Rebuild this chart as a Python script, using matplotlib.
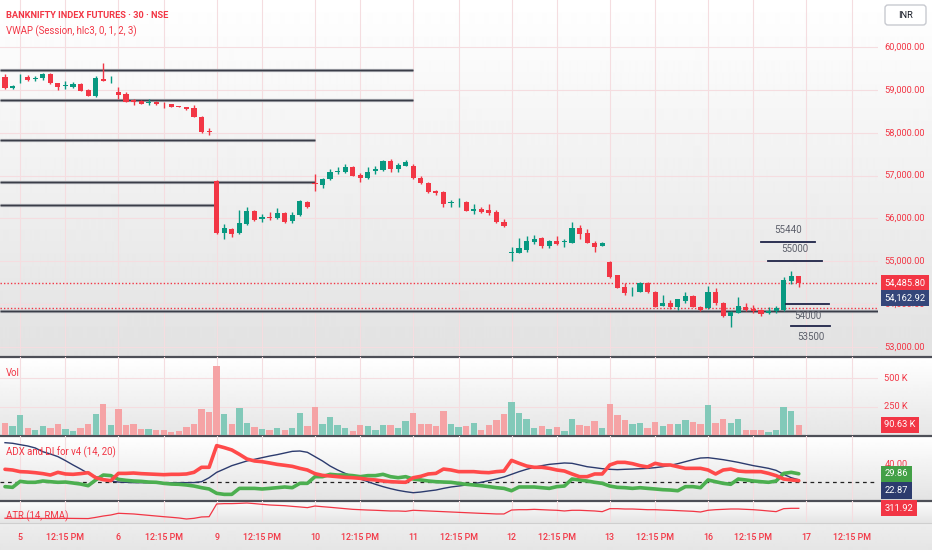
import numpy as np
import matplotlib
matplotlib.use('Agg')
import matplotlib.pyplot as plt
import matplotlib.transforms as mtransforms
from matplotlib import font_manager
from matplotlib.patches import FancyBboxPatch

_names = {f.name for f in font_manager.fontManager.ttflist}
FONT = 'Liberation Sans Narrow' if 'Liberation Sans Narrow' in _names else 'Roboto'
NARROW = FONT == 'Liberation Sans Narrow'
plt.rcParams['font.family'] = [FONT, 'DejaVu Sans']

# ---------------- data ----------------
opens = [59300, 59048, 59290, 59293, 59247, 59283, 59370, 59153, 59100, 59073, 59137, 58997, 58857, 59260, 59250,
         58957, 58897, 58770, 58740, 58700, 58713, 58695, 58663, 58612, 58593, 58570, 58374, 58035,
         56880, 55667, 55760, 55653, 55870, 56173, 55980, 56030, 56017, 56120, 55940, 56080, 56390,
         56830, 56787, 56913, 57090, 57090, 57207, 57013, 56937, 57106, 57130, 57347, 57146, 57230,
         57223, 56937, 56820, 56640, 56610, 56360, 56380, 56377, 56180, 56213, 56197, 56143, 55910,
         55200, 55200, 55263, 55443, 55536, 55356, 55480, 55460, 55433, 55770, 55667, 55420, 55356,
         54990, 54680, 54407, 54300, 54290, 54500, 54290, 53960, 54020, 53927, 54073, 54190, 53940,
         53903, 54290, 54033, 53730, 53800, 53923, 53893, 53863, 53783, 53846, 53863, 54547, 54657]
highs = [59370, 59110, 59370, 59346, 59330, 59400, 59390, 59165, 59213, 59190, 59150, 59010, 59323, 59620, 59323,
         59060, 58950, 58787, 58763, 58780, 58730, 58710, 58680, 58620, 58610, 58647, 58390, 58100,
         56890, 55870, 55780, 56197, 56274, 56190, 56103, 56150, 56250, 56150, 56143, 56430, 56400,
         57030, 56950, 57153, 57207, 57270, 57220, 57067, 57207, 57223, 57370, 57380, 57293, 57363,
         57263, 56997, 56850, 56660, 56630, 56427, 56470, 56400, 56337, 56260, 56337, 56197, 55980,
         55326, 55536, 55590, 55613, 55560, 55500, 55590, 55513, 55917, 55847, 55747, 55480, 55440,
         55000, 54690, 54487, 54407, 54523, 54510, 54300, 54213, 54097, 54130, 54290, 54210, 53950,
         54423, 54367, 54050, 53830, 54160, 54020, 53980, 53880, 53940, 53947, 54640, 54773, 54660]
lows = [59020, 59013, 59160, 59213, 59200, 59230, 59140, 58997, 59013, 59050, 58970, 58850, 58826, 59200, 59167,
        58780, 58720, 58647, 58660, 58647, 58650, 58577, 58600, 58590, 58540, 58360, 58000, 57943,
        55640, 55513, 55560, 55630, 55850, 55933, 55917, 55963, 55990, 55900, 55887, 56060, 56250,
        56647, 56703, 56900, 57030, 57053, 56990, 56857, 56920, 57037, 57110, 57090, 57090, 57220,
        56920, 56800, 56600, 56553, 56260, 56273, 56260, 56170, 56103, 56130, 56073, 55900, 55810,
        55013, 55190, 55223, 55403, 55303, 55303, 55380, 55326, 55420, 55513, 55420, 55223, 55350,
        54620, 54370, 54213, 54190, 54280, 54270, 53930, 53950, 53887, 53863, 54033, 53930, 53850,
        53890, 53980, 53693, 53473, 53790, 53850, 53783, 53723, 53770, 53783, 53850, 54470, 54393]
closes = [59043, 59096, 59305, 59230, 59283, 59370, 59153, 59060, 59110, 59137, 58980, 58857, 59270, 59207, 59260,
          58880, 58724, 58710, 58677, 58710, 58660, 58685, 58607, 58603, 58547, 58374, 58010, 58020,
          55653, 55784, 55630, 55900, 56173, 55963, 56040, 56015, 56120, 55917, 56080, 56407, 56260,
          56815, 56913, 57090, 57106, 57207, 56997, 56937, 57090, 57153, 57347, 57146, 57247, 57323,
          56937, 56820, 56620, 56587, 56337, 56377, 56393, 56180, 56213, 56150, 56133, 55910, 55823,
          55210, 55300, 55480, 55513, 55356, 55480, 55403, 55473, 55770, 55636, 55433, 55326, 55433,
          54640, 54383, 54267, 54313, 54500, 54277, 53940, 54020, 53940, 54113, 54190, 53940, 53863,
          54290, 54020, 53730, 53823, 53957, 53863, 53840, 53770, 53846, 53900, 54563, 54657, 54485.8]
volume_k = [109, 80, 174, 62, 44, 80, 62, 95, 53, 35, 62, 95, 188, 276, 86,
            230, 86, 95, 53, 53, 44, 44, 29, 35, 71, 95, 230, 206,
            612, 183, 95, 238, 109, 71, 53, 44, 62, 44, 62, 197, 80,
            247, 100, 159, 86, 62, 35, 86, 80, 44, 86, 86, 62, 126,
            197, 95, 100, 80, 212, 95, 71, 80, 109, 44, 86, 132, 183,
            291, 197, 141, 62, 80, 53, 71, 35, 141, 86, 80, 126, 62,
            276, 174, 132, 95, 109, 62, 117, 80, 100, 95, 132, 117, 95,
            262, 109, 141, 109, 141, 44, 44, 44, 29, 44, 245, 212, 90.63]
adx = [65.7, 65.0, 63.4, 61.9, 59.6, 55.3, 52.7, 49.6, 45.0, 40.0, 35.3, 30.3, 26.5, 23.8, 21.5,
       20.3, 20.0, 19.6, 19.6, 19.5, 19.5, 19.5, 19.5, 19.6, 19.6, 19.7, 20.7, 25.3,
       31.5, 35.3, 39.2, 41.9, 44.6, 46.5, 48.4, 50.3, 51.9, 53.8, 55.7, 56.1, 54.6,
       49.6, 44.6, 38.8, 34.2, 30.3, 26.9, 23.8, 20.7, 17.7, 15.0, 12.7, 10.7, 9.2,
       8.0, 8.8, 10.0, 11.1, 13.0, 14.6, 15.7, 16.9, 18.4, 20.0, 21.9, 23.8, 26.1,
       29.2, 32.3, 35.0, 37.3, 39.2, 40.7, 41.5, 42.3, 41.9, 40.0, 38.0, 36.9, 35.7,
       35.0, 34.6, 35.0, 35.3, 35.7, 36.1, 36.9, 38.0, 39.6, 41.5, 43.8, 46.1, 48.0,
       48.4, 47.3, 46.1, 44.6, 43.0, 41.1, 39.2, 37.7, 36.1, 33.8, 29.2, 25.3, 22.87]
di_minus = [35.0, 34.2, 32.3, 31.9, 31.1, 30.0, 28.4, 31.5, 29.6, 29.2, 30.0, 31.1, 25.3, 23.0, 21.9,
            30.3, 30.3, 30.7, 30.0, 29.6, 29.2, 28.8, 29.2, 29.2, 29.6, 31.5, 37.3, 37.3,
            62.3, 60.0, 57.3, 52.3, 46.9, 44.6, 43.8, 42.3, 40.7, 39.6, 38.4, 36.1, 34.2,
            30.0, 28.0, 27.3, 26.5, 25.7, 25.3, 24.6, 23.4, 22.7, 21.5, 20.7, 20.3, 20.0,
            25.3, 26.9, 29.6, 30.3, 35.3, 34.2, 32.3, 32.3, 32.3, 31.5, 31.1, 32.3, 33.0,
            45.3, 41.9, 38.8, 37.3, 37.3, 36.1, 34.2, 33.0, 29.6, 26.5, 26.5, 29.6, 29.6,
            40.0, 43.0, 43.0, 41.5, 39.2, 37.7, 41.9, 40.0, 40.0, 38.0, 36.1, 36.1, 36.1,
            34.2, 29.6, 34.2, 35.3, 33.0, 32.3, 32.3, 32.3, 30.3, 27.7, 23.8, 22.7, 21.9]
di_plus = [15.0, 14.2, 21.1, 20.0, 20.0, 21.5, 20.7, 20.0, 20.3, 19.2, 18.0, 16.1, 22.7, 28.4, 27.7,
           23.4, 22.3, 21.5, 21.1, 20.3, 20.0, 18.8, 18.0, 17.7, 16.9, 15.7, 13.8, 12.3,
           7.3, 6.1, 6.1, 13.0, 13.0, 13.0, 12.3, 13.0, 13.8, 14.6, 13.8, 18.8, 18.8,
           26.5, 26.5, 29.2, 28.4, 28.4, 27.7, 26.5, 27.7, 27.7, 29.2, 26.5, 25.3, 26.5,
           23.8, 22.7, 21.5, 20.7, 20.3, 20.0, 18.8, 17.7, 16.9, 16.1, 15.0, 13.8, 13.0,
           10.3, 14.6, 14.6, 14.6, 13.8, 13.0, 15.0, 15.7, 23.8, 22.7, 21.5, 20.0, 18.8,
           15.7, 14.2, 13.8, 13.0, 13.8, 13.0, 12.3, 11.5, 11.1, 10.3, 15.0, 15.0, 13.8,
           22.7, 20.7, 18.8, 17.7, 23.8, 22.7, 21.5, 20.7, 20.0, 21.5, 30.3, 31.5, 29.86]
atr = [196, 195, 194, 196, 195, 194, 193, 194, 195, 194, 193, 192, 206, 222, 234,
       254, 250, 246, 238, 230, 222, 214, 207, 199, 187, 195, 211, 214,
       363, 367, 367, 370, 374, 367, 359, 351, 347, 343, 335, 328, 320,
       339, 331, 324, 316, 308, 300, 296, 292, 289, 285, 281, 281, 277,
       289, 285, 281, 277, 273, 269, 265, 261, 257, 253, 250, 246, 246,
       292, 296, 296, 300, 296, 292, 289, 281, 289, 289, 285, 281, 273,
       308, 308, 304, 304, 300, 296, 296, 292, 289, 285, 281, 277, 269,
       289, 296, 300, 304, 304, 300, 296, 289, 281, 273, 308, 312, 311.92]

day_labels = ['5', '6', '9', '10', '11', '12', '13', '16', '17']
time_label = '12:15 PM'
bars_per_day = 13
first_day_bar = 2
price_ticks = [53000, 54000, 55000, 56000, 57000, 58000, 59000, 60000]
vol_ticks_k = [250, 500]
last_price = 54485.80
vwap_value = 54162.92
prev_close_level = 53903
long_levels = [59463, 58775, 57823, 56843, 56302, 53845]
long_level_end_bar = [54, 54, 41, 41, 28, None]
short_levels = [55440, 55000, 54000, 53500]
short_level_span = [(100.0, 107.1), (100.9, 108.1), (103.3, 109.0), (104.0, 109.1)]
short_label_above = [True, True, False, False]

# ---------------- styling ----------------
RED = '#f23645'
GREEN = '#089981'
VOL_RED = '#f5a3a5'
VOL_GREEN = '#82c9b9'
NAVY = '#2c3b6e'
GRID = '#f5dde0'
W, H = 932, 550
PLOT_R = 878
S = 1.25 if NARROW else 1.0        # font scale (narrow font allows larger size)
FS_AX = 6.7 * S
FS_TITLE = 6.7 * S
FS_LEG = 6.9 * S
FS_TIME = 6.4 * S
FS_LVL = 7.0 * S

fig = plt.figure(figsize=(W / 100, H / 100), dpi=100)

bg = fig.add_axes([0, 0, 1, 1], zorder=0)
bg.set_xlim(0, W)
bg.set_ylim(H, 0)
bg.axis('off')
col = np.ones(H)
for (a, b, c0, c1) in [(0, 357, 1.0, 0.885), (357, 436, 1.0, 0.90), (436, 501, 1.0, 0.89),
                       (501, 523, 0.99, 0.90), (523, 550, 0.93, 0.90)]:
    col[a:b] = np.linspace(c0, c1, b - a)
img = np.repeat(col[:, None], 2, axis=1)
bg.imshow(img, cmap='gray', vmin=0, vmax=1, extent=[0, W, H, 0], aspect='auto',
          interpolation='bilinear', zorder=0)
for yy in (356.5, 435.5, 500.5):
    bg.plot([0, W], [yy, yy], color='#4d4f57', lw=1.6, zorder=1, solid_capstyle='butt')
bg.plot([0, W], [522.5, 522.5], color='#cfcfcf', lw=0.8, zorder=1)


def rect(x0, y0, x1, y1):
    return [x0 / W, 1 - y1 / H, (x1 - x0) / W, (y1 - y0) / H]


n = len(closes)
idx = np.arange(n)
XL = (-0.661, 115.48)
day_pos = [first_day_bar + bars_per_day * i for i in range(len(day_labels))]
half_pos = [p + 6 for p in day_pos]

axes = []
for r in [(0, 0, PLOT_R, 356), (0, 357, PLOT_R, 435), (0, 436, PLOT_R, 500), (0, 501, PLOT_R, 522)]:
    a = fig.add_axes(rect(*r), zorder=2)
    a.set_facecolor('none')
    a.set_xlim(*XL)
    for s in a.spines.values():
        s.set_visible(False)
    a.set_xticks([])
    a.set_yticks([])
    for p in day_pos + half_pos:
        a.axvline(p, color=GRID, lw=0.8, zorder=0)
    axes.append(a)
ax_p, ax_v, ax_a, ax_t = axes

# ---------------- price pane ----------------
ax_p.set_ylim(52790, 61097)
for v in price_ticks:
    ax_p.axhline(v, color=GRID, lw=0.8, zorder=0)
o = np.array(opens, float)
c = np.array(closes, float)
hi = np.array(highs, float)
lo = np.array(lows, float)
up = c >= o
colors = np.where(up, GREEN, RED)
ax_p.vlines(idx, lo, hi, colors=colors, lw=1.0, zorder=4)
body_h = np.maximum(np.abs(c - o), 14)
ax_p.bar(idx, body_h, bottom=np.minimum(o, c), width=0.68, color=colors, zorder=5, linewidth=0)

for lvl, end in zip(long_levels, long_level_end_bar):
    x1 = XL[1] if end is None else end
    ax_p.plot([XL[0], x1], [lvl, lvl], color='#a3a5ab', lw=2.3, zorder=3, solid_capstyle='butt')
    ax_p.plot([XL[0], x1], [lvl, lvl], color='#3a3d48', lw=1.0, zorder=3, solid_capstyle='butt')

for lvl, (s0, s1), above in zip(short_levels, short_level_span, short_label_above):
    ax_p.plot([s0, s1], [lvl, lvl], color='#1f2448', lw=1.3, zorder=6)
    ty = lvl + 290 if above else lvl - 270
    fig.text((s0 + s1) / 2, ty, str(lvl), transform=ax_p.transData, color='#5d606b', fontsize=FS_LVL,
             ha='center', va='center', zorder=6)

ax_p.axhline(last_price, color=RED, lw=1.0, ls=(0, (1, 1.5)), zorder=2)
ax_p.axhline(prev_close_level, color=RED, lw=1.0, ls=(0, (1, 1.5)), zorder=2)

tr_p = mtransforms.blended_transform_factory(fig.transFigure, ax_p.transData)
LX = 884.5 / W
BOX = dict(boxstyle='square,pad=0.38', ec='none')
for v in price_ticks:
    fig.text(LX, v, f'{v:,.2f}', transform=tr_p, color=RED, fontsize=FS_AX, va='center', ha='left', zorder=3)
fig.text(LX, last_price, f'{last_price:,.2f}', transform=tr_p, color='white', fontsize=FS_AX, va='center',
         ha='left', zorder=5, bbox=dict(BOX, fc=RED))
tr_bgp = mtransforms.blended_transform_factory(fig.transFigure, bg.transData)
fig.text(LX, 297.8, f'{vwap_value:,.2f}', transform=tr_bgp, color='white', fontsize=FS_AX, va='center',
         ha='left', zorder=5, bbox=dict(BOX, fc='#34467a'))

# ---------------- volume pane ----------------
ax_v.set_ylim(0, 689)
for v in vol_ticks_k:
    ax_v.axhline(v, color=GRID, lw=0.8, zorder=0)
ax_v.bar(idx, volume_k, width=0.84, color=np.where(up, VOL_GREEN, VOL_RED), zorder=3, linewidth=0)
tr_v = mtransforms.blended_transform_factory(fig.transFigure, ax_v.transData)
for v in vol_ticks_k:
    fig.text(LX, v, f'{v} K', transform=tr_v, color=RED, fontsize=FS_AX, va='center', ha='left', zorder=3)
fig.text(LX, volume_k[-1], f'{volume_k[-1]:.2f} K', transform=tr_v, color='white', fontsize=FS_AX,
         va='center', ha='left', zorder=5, bbox=dict(BOX, fc=RED))

# ---------------- ADX pane ----------------
ax_a.set_ylim(-0.4, 73.4)
ax_a.axhline(20, color='#222222', lw=0.9, ls=(0, (3, 3)), zorder=2)
ax_a.plot(idx, adx, color=NAVY, lw=1.0, zorder=3)
ax_a.plot(idx, di_plus, color='#4caf50', lw=2.6, zorder=4, solid_capstyle='round')
ax_a.plot(idx, di_minus, color='#ff4a4a', lw=2.6, zorder=5, solid_capstyle='round')
tr_a = mtransforms.blended_transform_factory(fig.transFigure, ax_a.transData)
fig.text(LX, 40, '40.00', transform=tr_a, color=RED, fontsize=FS_AX, va='center', ha='left', zorder=3)
fig.text(LX, di_plus[-1], f'{di_plus[-1]:.2f}', transform=tr_a, color='white', fontsize=FS_AX, va='center',
         ha='left', zorder=5, bbox=dict(BOX, fc='#43a047'))
fig.text(LX, 490.5, f'{adx[-1]:.2f}', transform=tr_bgp, color='white', fontsize=FS_AX, va='center',
         ha='left', zorder=5, bbox=dict(BOX, fc=NAVY))

# ---------------- ATR pane ----------------
ax_t.set_ylim(152, 397.7)
ax_t.plot(idx, atr, color=RED, lw=0.9, zorder=3)
tr_t = mtransforms.blended_transform_factory(fig.transFigure, ax_t.transData)
fig.text(LX, atr[-1], f'{atr[-1]:.2f}', transform=tr_t, color='white', fontsize=FS_AX, va='center',
         ha='left', zorder=5, bbox=dict(BOX, fc=RED))

# ---------------- time axis ----------------
tr_x = mtransforms.blended_transform_factory(ax_t.transData, bg.transData)
for p, lab in zip(day_pos, day_labels):
    fig.text(p, 537, lab, transform=tr_x, color=RED, fontsize=FS_TIME, ha='center', va='center',
             fontweight='medium', zorder=6)
for p in half_pos:
    fig.text(p, 537, time_label, transform=tr_x, color=RED, fontsize=FS_TIME, ha='center', va='center',
             fontweight='medium', zorder=6)

# ---------------- titles / legends ----------------
def ftext(x, y, s, **kw):
    fig.text(x, y, s, transform=bg.transData, ha='left', va='center', zorder=6, **kw)


ftext(6, 15, 'BANKNIFTY INDEX FUTURES · 30 · NSE', color=RED, fontsize=FS_TITLE, fontweight='bold')
ftext(6, 31, 'VWAP (Session, hlc3, 0, 1, 2, 3)', color=RED, fontsize=FS_LEG)
ftext(6, 372.5, 'Vol', color=RED, fontsize=FS_LEG)
ftext(6, 452, 'ADX and DI for v4 (14, 20)', color=RED, fontsize=FS_LEG)
ftext(6, 516.5, 'ATR (14, RMA)', color=RED, fontsize=FS_LEG)

bg.add_patch(FancyBboxPatch((885, 5), 41, 20, boxstyle='round,pad=0,rounding_size=3',
                            fc='white', ec='#c8cad0', lw=1.0, zorder=6))
fig.text(905.5, 15, 'INR', transform=bg.transData, color='#131722', fontsize=FS_AX, ha='center',
         va='center', zorder=7)

fig.savefig('out.png', dpi=100)
